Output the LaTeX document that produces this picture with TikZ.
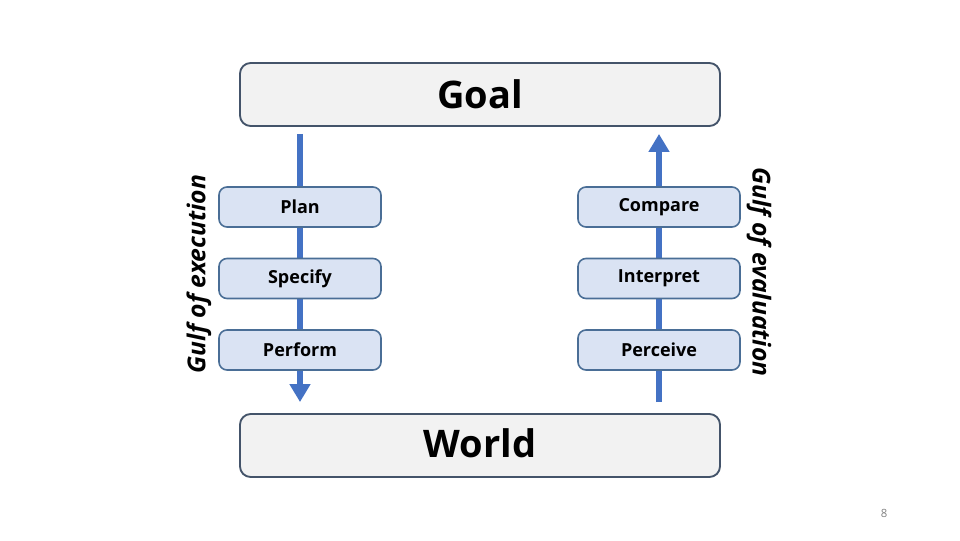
\documentclass[tikz,border=0pt]{standalone}
\usepackage{fontspec}
\setmainfont{Open Sans}
\usetikzlibrary{arrows.meta}
\pgfdeclarelayer{bg}
\pgfsetlayers{bg,main}
\definecolor{bigfill}{HTML}{F2F2F2}
\definecolor{bigdraw}{HTML}{44546A}
\definecolor{smallfill}{HTML}{DAE3F3}
\definecolor{smalldraw}{HTML}{4A6E96}
\definecolor{arrowblue}{HTML}{4472C4}
\tikzset{
  bigbox/.style={draw=bigdraw, fill=bigfill, line width=1.4pt, rounded corners=8pt,
    minimum width=360pt, minimum height=47.25pt, inner sep=0pt, font=\bfseries\fontsize{28.5}{34}\selectfont},
  stagebox/.style={draw=smalldraw, fill=smallfill, line width=1.2pt, rounded corners=6pt,
    minimum width=121.5pt, minimum height=30pt, inner sep=0pt, font=\bfseries\fontsize{13.5}{16}\selectfont},
  gulf/.style={font=\bfseries\itshape\fontsize{18.5}{22}\selectfont, inner sep=0pt},
  flow/.style={draw=arrowblue, line width=4.5pt, -{Triangle[width=15pt,length=13.5pt]}}
}
\begin{document}
\begin{tikzpicture}[x=0.75pt,y=-0.75pt]
\useasboundingbox (0,0) rectangle (960,540);
\node[bigbox] (goal) at (480,94.5) {Goal};
\node[bigbox, text depth=4pt] (world) at (480,445.5) {World};
\node[stagebox] (plan) at (300,207) {Plan};
\node[stagebox] (specify) at (300,278.5) {Specify};
\node[stagebox] (perform) at (300,350) {Perform};
\node[stagebox] (compare) at (659,207) {Compare};
\node[stagebox] (interpret) at (659,278.5) {Interpret};
\node[stagebox] (perceive) at (659,350) {Perceive};
\node[gulf, rotate=90] (gexec) at (199,274) {Gulf of execution};
\node[gulf, rotate=-90] (geval) at (759,272) {Gulf of evaluation};
\node[text=gray, font=\fontsize{8.5}{10}\selectfont] (page) at (884,513) {8};
\begin{pgfonlayer}{bg}
\draw[flow, shorten <=5.25pt, shorten >=8.25pt] (goal.south -| plan.center) -- (world.north -| plan.center);
\draw[flow, shorten <=8.25pt, shorten >=5.25pt] (world.north -| compare.center) -- (goal.south -| compare.center);
\end{pgfonlayer}
\end{tikzpicture}
\end{document}
